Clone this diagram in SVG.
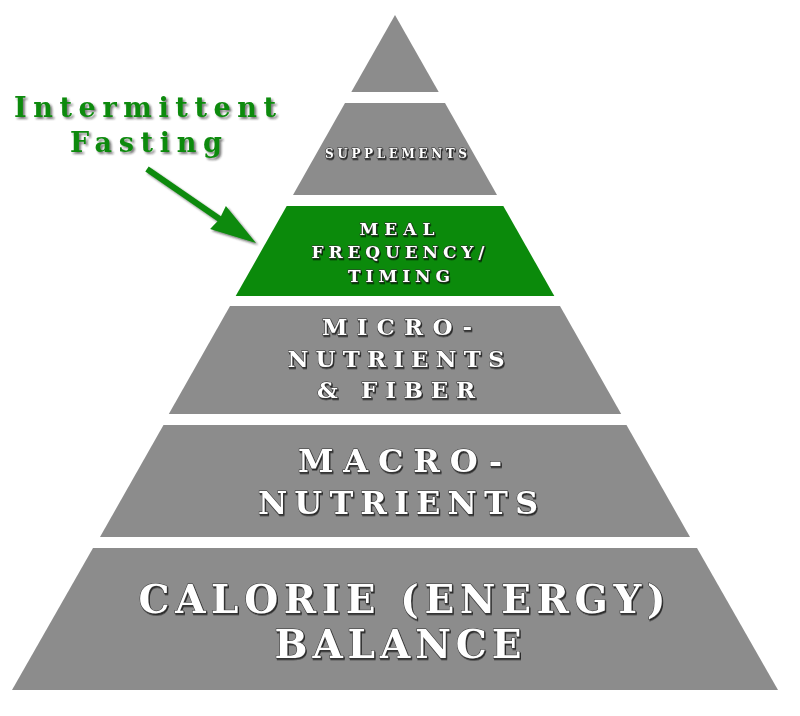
<svg xmlns="http://www.w3.org/2000/svg" width="800" height="716" viewBox="0 0 800 716">
<defs>
<filter id="sh" x="-10%" y="-10%" width="130%" height="140%">
<feDropShadow dx="1" dy="1.5" stdDeviation="0.6" flood-color="#000" flood-opacity="0.7"/>
</filter>
<filter id="gsh" x="-10%" y="-10%" width="130%" height="140%">
<feDropShadow dx="2" dy="2" stdDeviation="0.8" flood-color="#222" flood-opacity="0.6"/>
</filter>
</defs>
<style>
.tier{fill:#8c8c8c}
.hl{fill:#0b8a0b}
.lbl{font-family:"DejaVu Serif","Liberation Serif",serif;font-weight:bold;fill:#fff;stroke:#333;stroke-width:1;paint-order:stroke fill;text-anchor:middle;filter:url(#sh)}
.ann{font-family:"DejaVu Serif","Liberation Serif",serif;font-weight:bold;fill:#0b8a0b;filter:url(#gsh)}
.arr{fill:#0b8a0b;filter:url(#gsh)}
</style>
<rect width="800" height="716" fill="#fff"/>
<g id="tier-top">
<polygon class="tier" points="395,15 438.7,92 351.3,92"/>
</g>
<g id="tier-supplements">
<polygon class="tier" points="345,103 445,103 497,195 293,195"/>
<text class="lbl" x="396" y="158" font-size="12" textLength="142" lengthAdjust="spacing">SUPPLEMENTS</text>
</g>
<g id="tier-meal">
<polygon class="hl" points="286.7,206 503.3,206 554.3,296 235.7,296"/>
<text class="lbl" x="397" y="235" font-size="17" textLength="75" lengthAdjust="spacing">MEAL</text>
<text class="lbl" x="398" y="258" font-size="17" textLength="173" lengthAdjust="spacing">FREQUENCY/</text>
<text class="lbl" x="399" y="282" font-size="17" textLength="102" lengthAdjust="spacing">TIMING</text>
</g>
<g id="tier-micro">
<polygon class="tier" points="230,306 560,306 621.2,414 168.8,414"/>
<text class="lbl" x="397" y="335" font-size="23" textLength="150" lengthAdjust="spacing">MICRO-</text>
<text class="lbl" x="396" y="367" font-size="23" textLength="217" lengthAdjust="spacing">NUTRIENTS</text>
<text class="lbl" x="396" y="398" font-size="23" textLength="158" lengthAdjust="spacing">&amp; FIBER</text>
</g>
<g id="tier-macro">
<polygon class="tier" points="163.5,425 626.5,425 690,537 100,537"/>
<text class="lbl" x="400" y="472" font-size="32" textLength="204" lengthAdjust="spacing">MACRO-</text>
<text class="lbl" x="398" y="514" font-size="32" textLength="280" lengthAdjust="spacing">NUTRIENTS</text>
</g>
<g id="tier-calorie">
<polygon class="tier" points="93,548 697,548 778,690 12,690"/>
<text class="lbl" x="402" y="613" font-size="39" textLength="527" lengthAdjust="spacing">CALORIE (ENERGY)</text>
<text class="lbl" x="398" y="658" font-size="39" textLength="247" lengthAdjust="spacing">BALANCE</text>
</g>
<g id="annotation">
<text class="ann" x="14" y="117" font-size="27" textLength="262" lengthAdjust="spacing">Intermittent</text>
<text class="ann" x="70" y="152" font-size="27" textLength="152" lengthAdjust="spacing">Fasting</text>
</g>
<g id="connectors">
<polygon class="arr" points="145.3,171.5 148.7,166.5 220.9,216.3 225.9,206.1 256,243 210.1,229.1 217.5,221.3"/>
</g>
</svg>
